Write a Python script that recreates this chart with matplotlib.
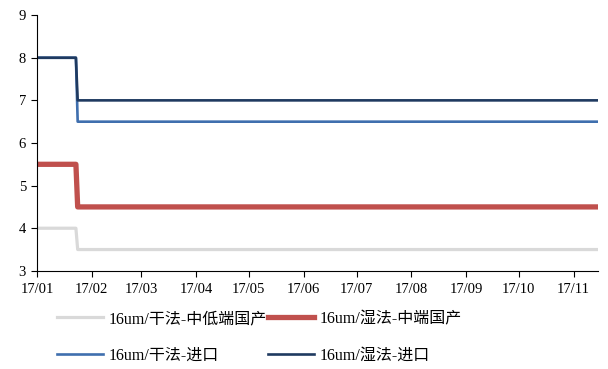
import numpy as np
import pandas as pd
import matplotlib.pyplot as plt
import matplotlib.dates as mdates

plt.rcParams['font.family'] = ['Liberation Serif', 'Noto Sans CJK SC']

# price points (yuan/m2): start, last day before cut, first day after cut, end
dates = pd.to_datetime(['2017-01-01', '2017-01-23', '2017-01-24', '2017-11-15'])
dry_domestic = [4.0, 4.0, 3.5, 3.5]
wet_domestic = [5.5, 5.5, 4.5, 4.5]
dry_import = [8.0, 8.0, 6.5, 6.5]
wet_import = [8.0, 8.0, 7.0, 7.0]

labels = ['16um/干法-中低端国产', '16um/湿法-中端国产',
          '16um/干法-进口', '16um/湿法-进口']
colors = ['#d9d9d9', '#c0504d', '#3f6fae', '#1f3a60']
widths = [2.3, 3.8, 1.9, 1.9]

fig = plt.figure(figsize=(6.08, 3.69), dpi=100)
ax = fig.add_axes([0.061, 0.266, 0.923, 0.693])

series = [dry_domestic, wet_domestic, dry_import, wet_import]
lines = []
for vals, lab, c, w in zip(series, labels, colors, widths):
    ln, = ax.plot(dates, vals, color=c, lw=w, label=lab, solid_joinstyle='round')
    lines.append(ln)

ax.set_ylim(3, 9)
ax.set_yticks(np.arange(3, 10, 1))
ax.set_xlim(pd.Timestamp('2017-01-01'), pd.Timestamp('2017-11-15'))
ax.xaxis.set_major_locator(mdates.MonthLocator())
ax.xaxis.set_major_formatter(mdates.DateFormatter('%y/%m'))

for s in ['top', 'right']:
    ax.spines[s].set_visible(False)
for s in ['left', 'bottom']:
    ax.spines[s].set_color('black')
    ax.spines[s].set_linewidth(0.8)
ax.tick_params(axis='both', direction='out', length=4, width=0.8,
               labelsize=10.5, colors='black', pad=2)
ax.tick_params(axis='x', pad=5)
ax.tick_params(axis='y', pad=4)

# legend filled row by row: reorder for matplotlib's column-major layout
order = [0, 2, 1, 3]
fig.legend([lines[i] for i in order], [labels[i] for i in order],
           loc='upper left', bbox_to_anchor=(0.094, 0.157), ncol=2,
           frameon=False, fontsize=11.5, handlelength=2.9, handletextpad=0.3,
           columnspacing=0.1, labelspacing=1.3, borderpad=0, borderaxespad=0)

fig.savefig('out.png', dpi=100)
